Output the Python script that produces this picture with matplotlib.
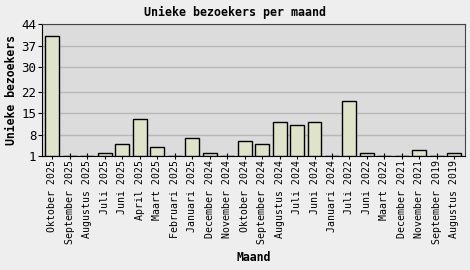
import matplotlib.pyplot as plt

# months (newest first) and unique visitors
maanden = ['Oktober 2025', 'September 2025', 'Augustus 2025', 'Juli 2025',
           'Juni 2025', 'April 2025', 'Maart 2025', 'Februari 2025',
           'Januari 2025', 'December 2024', 'November 2024', 'Oktober 2024',
           'September 2024', 'Augustus 2024', 'Juli 2024', 'Juni 2024',
           'Januari 2024', 'Juli 2022', 'Juni 2022', 'Maart 2022',
           'December 2021', 'November 2021', 'September 2019', 'Augustus 2019']
bezoekers = [40, 1, 1, 2, 5, 13, 4, 1, 7, 2, 1, 6, 5, 12, 11, 12, 1, 19, 2, 1,
             1, 3, 1, 2]
yticks = [1, 8, 15, 22, 30, 37, 44]

plt.rcParams['font.family'] = 'DejaVu Sans Mono'

fig = plt.figure(figsize=(4.7, 2.7), dpi=100, facecolor='#eeeeee')
ax = fig.add_axes([0.089, 0.422, 0.9, 0.489])
ax.set_facecolor('#dcdcdc')

x = list(range(len(maanden)))
base = 1
ax.bar(x, [v - base for v in bezoekers], bottom=base, width=0.8,
       color='#dfe3c9', edgecolor='black', linewidth=1, zorder=3)

ax.set_ylim(1, 44)
ax.set_xlim(-0.6, len(maanden) - 0.4)
ax.set_yticks(yticks)
ax.yaxis.grid(True, color='#b8b8b8', linewidth=1, zorder=0)
ax.set_xticks(x)
ax.set_xticklabels(maanden, rotation=90, fontsize=7.1)
ax.tick_params(axis='x', direction='inout', length=4, width=0.8, pad=1)
ax.tick_params(axis='y', labelsize=9, length=3, pad=1)

for s in ['left', 'bottom']:
    ax.spines[s].set_color('black')
for s in ['top', 'right']:
    ax.spines[s].set_color('#444444')

fig.text(0.5, 0.955, 'Unieke bezoekers per maand', ha='center', va='center',
         fontsize=8.4, fontweight='bold')
ax.set_ylabel('Unieke bezoekers', fontsize=8.3, fontweight='bold', labelpad=2)
ax.set_xlabel('Maand', fontsize=8.3, fontweight='bold', labelpad=5)

fig.savefig('out.png', dpi=100, facecolor=fig.get_facecolor())
